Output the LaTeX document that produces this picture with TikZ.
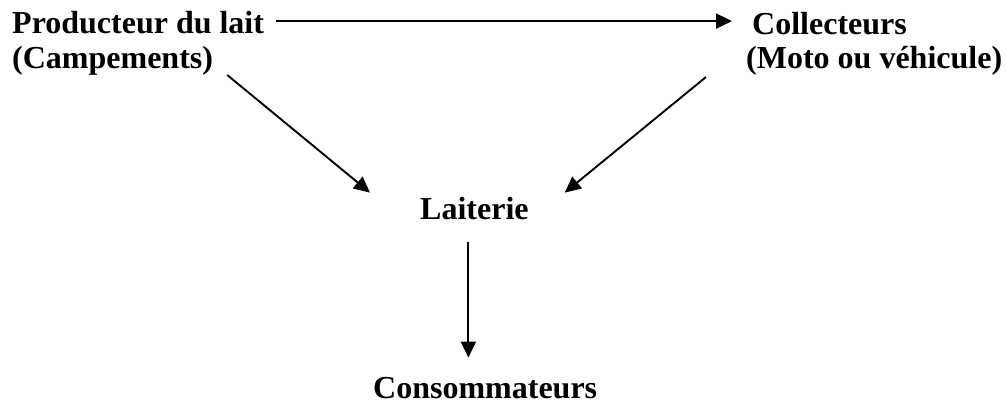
\documentclass[tikz,border=0pt]{standalone}
\usepackage{fontspec}
\setmainfont{Liberation Serif}
\usetikzlibrary{arrows.meta, positioning}

\begin{document}
\begin{tikzpicture}[x=1pt, y=-1pt,
  every node/.style={font=\fontsize{32}{35}\selectfont\bfseries, inner sep=0pt, anchor=base west},
  flow/.style={-{Triangle[length=16pt,width=15pt]}, line width=1.9pt}]
  \useasboundingbox (0,0) rectangle (1006,405);

  % Actors
  \node (prod) at (12,33) {Producteur du lait};
  \node (camp) at (12,68) {(Campements)};
  \node (coll) at (752,34) {Collecteurs};
  \node (moto) at (746,68) {(Moto ou véhicule)};
  \node (lait) at (420,219) {Laiterie};
  \node (cons) at (373,398) {Consommateurs};

  % Arrows
  \draw[flow] ([xshift=12pt,yshift=1pt]prod.east) -- ([xshift=-20pt,yshift=1pt]prod.east -| coll.west);
  \draw[flow] ([xshift=14pt]camp.south east) -- ([xshift=-50pt,yshift=4pt]lait.north west);
  \draw[flow] ([xshift=-40pt,yshift=-2pt]moto.south west) -- ([xshift=36pt,yshift=4pt]lait.north east);
  \draw[flow] ([xshift=-6pt,yshift=-22pt]lait.south) -- ([xshift=-6pt,yshift=19pt]lait.south |- cons.north);
\end{tikzpicture}
\end{document}
